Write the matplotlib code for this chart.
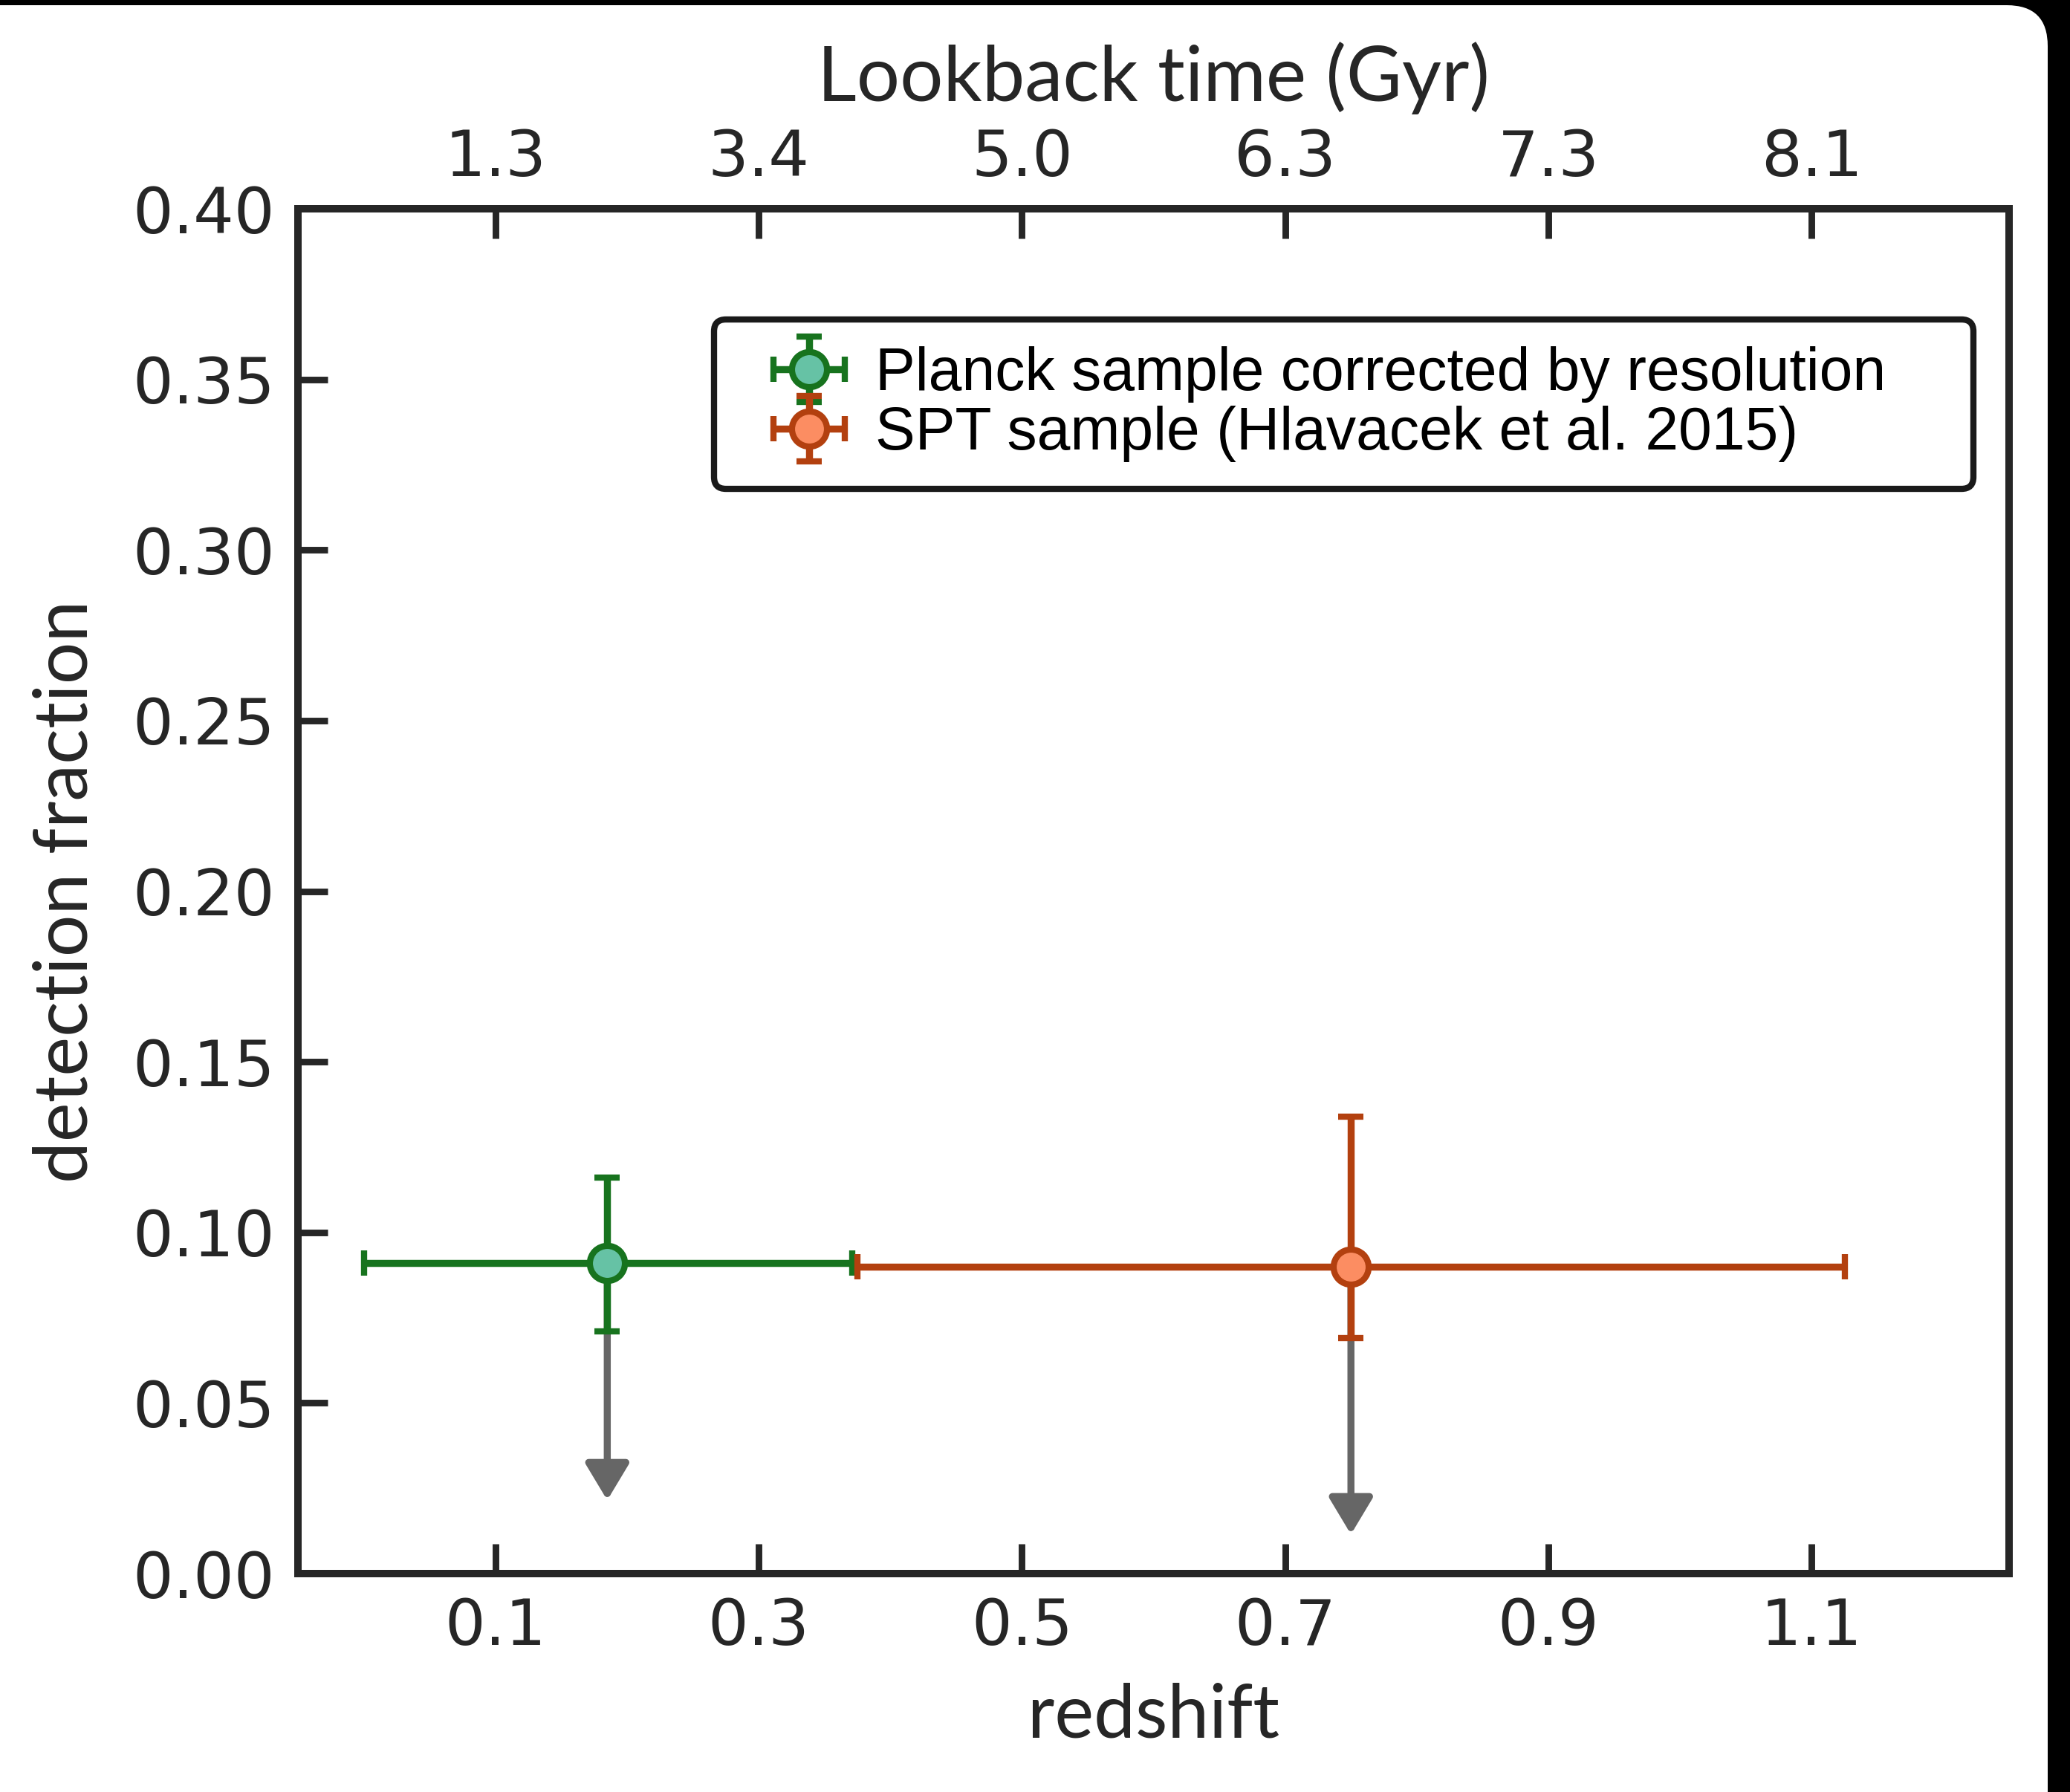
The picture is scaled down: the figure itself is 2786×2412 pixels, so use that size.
import matplotlib
matplotlib.use('Agg')
import matplotlib.pyplot as plt
from matplotlib.patches import FancyBboxPatch
from matplotlib.container import ErrorbarContainer
from matplotlib.legend_handler import HandlerErrorbar

# data
planck_z = [0.185]
planck_zerr = [[0.185], [0.186]]
planck_f = [0.091]
planck_ferr = [[0.020], [0.025]]
planck_arrow_tip = [0.0215]

spt_z = [0.75]
spt_zerr = [[0.375], [0.375]]
spt_f = [0.090]
spt_ferr = [[0.021], [0.044]]
spt_arrow_tip = [0.0115]

z_ticks = [0.1, 0.3, 0.5, 0.7, 0.9, 1.1]
z_labels = ['0.1', '0.3', '0.5', '0.7', '0.9', '1.1']
lookback_labels = ['1.3', '3.4', '5.0', '6.3', '7.3', '8.1']
y_ticks = [0.0, 0.05, 0.10, 0.15, 0.20, 0.25, 0.30, 0.35, 0.40]

W, H, DPI = 2786, 2412, 200
ink = '#262626'
label_font = 'Lato'

fig = plt.figure(figsize=(W / DPI, H / DPI), dpi=DPI, facecolor='black')

# white rounded card on black background
r = 55 / W
card = FancyBboxPatch((-0.03, -0.03), 0.03 + 2756 / W, 0.03 + (H - 7) / H,
                      boxstyle=f'round,pad=0,rounding_size={r}',
                      mutation_aspect=W / H, transform=fig.transFigure,
                      facecolor='white', edgecolor='none', zorder=-10)
fig.patches.append(card)

ax = fig.add_axes([401 / W, 1 - 2118 / H, (2704 - 401) / W, (2118 - 281) / H])
ax.set_facecolor('white')

ax.errorbar(planck_z, planck_f, xerr=planck_zerr, yerr=planck_ferr,
            fmt='o', color='#17731e', mfc='#66c2a5', mec='#17731e',
            ms=17, mew=3.0, elinewidth=3.4, capsize=6, capthick=2.6,
            label='Planck sample corrected by resolution', zorder=3)
ax.errorbar(spt_z, spt_f, xerr=spt_zerr, yerr=spt_ferr,
            fmt='o', color='#b3400f', mfc='#fc8d62', mec='#b3400f',
            ms=17, mew=3.0, elinewidth=3.4, capsize=6, capthick=2.6,
            label='SPT sample (Hlavacek et al. 2015)', zorder=3)

# upper-limit arrows
for zs, fs, tips in [(planck_z, planck_f, planck_arrow_tip), (spt_z, spt_f, spt_arrow_tip)]:
    for z, f, t in zip(zs, fs, tips):
        ax.annotate('', xy=(z, t), xytext=(z, f),
                    arrowprops=dict(arrowstyle='-|>,head_width=0.45,head_length=0.75',
                                    mutation_scale=20, color='#666666', lw=3.4,
                                    shrinkA=0, shrinkB=0),
                    zorder=2)

ax.set_xlim(-0.05, 1.25)
ax.set_ylim(0, 0.40)
ax.set_xticks(z_ticks)
ax.set_xticklabels(z_labels)
ax.set_yticks(y_ticks)
ax.set_yticklabels([f'{v:.2f}' for v in y_ticks])

for s in ax.spines.values():
    s.set_linewidth(3.6)
    s.set_color(ink)
ax.tick_params(axis='both', which='major', direction='in', length=14.5, width=3.2,
               color=ink, labelcolor=ink, labelsize=31, pad=11)
ax.tick_params(axis='x', top=False, right=False)
ax.tick_params(axis='y', right=False)

ax.set_xlabel('redshift', fontsize=36, family=label_font, color=ink, labelpad=12)
ax.set_ylabel('detection fraction', fontsize=36, family=label_font, color=ink, labelpad=16)

ax2 = ax.twiny()
ax2.set_xlim(ax.get_xlim())
ax2.set_xticks(z_ticks)
ax2.set_xticklabels(lookback_labels)
ax2.tick_params(axis='x', direction='in', length=14.5, width=3.2, color=ink,
                labelcolor=ink, labelsize=31, pad=9.5)
for s in ax2.spines.values():
    s.set_linewidth(3.6)
    s.set_color(ink)
ax2.set_xlabel('Lookback time (Gyr)', fontsize=37, family=label_font, color=ink, labelpad=13)

leg_x0 = (961 - 401) / 2303
leg_w = (2656 - 961) / 2303
leg = ax.legend(loc='upper left', bbox_to_anchor=(leg_x0, 0, leg_w, 0.919), mode='expand',
                borderaxespad=0, prop={'family': 'Liberation Sans', 'size': 29},
                frameon=True, fancybox=True, framealpha=1, edgecolor='#1a1a1a',
                handlelength=2.28, handletextpad=-0.04, labelspacing=0.05,
                borderpad=0.45,
                handler_map={ErrorbarContainer: HandlerErrorbar(xerr_size=0.6, yerr_size=0.55)})
leg.get_frame().set_linewidth(3.0)

fig.savefig('out.png', dpi=DPI, facecolor=fig.get_facecolor())
